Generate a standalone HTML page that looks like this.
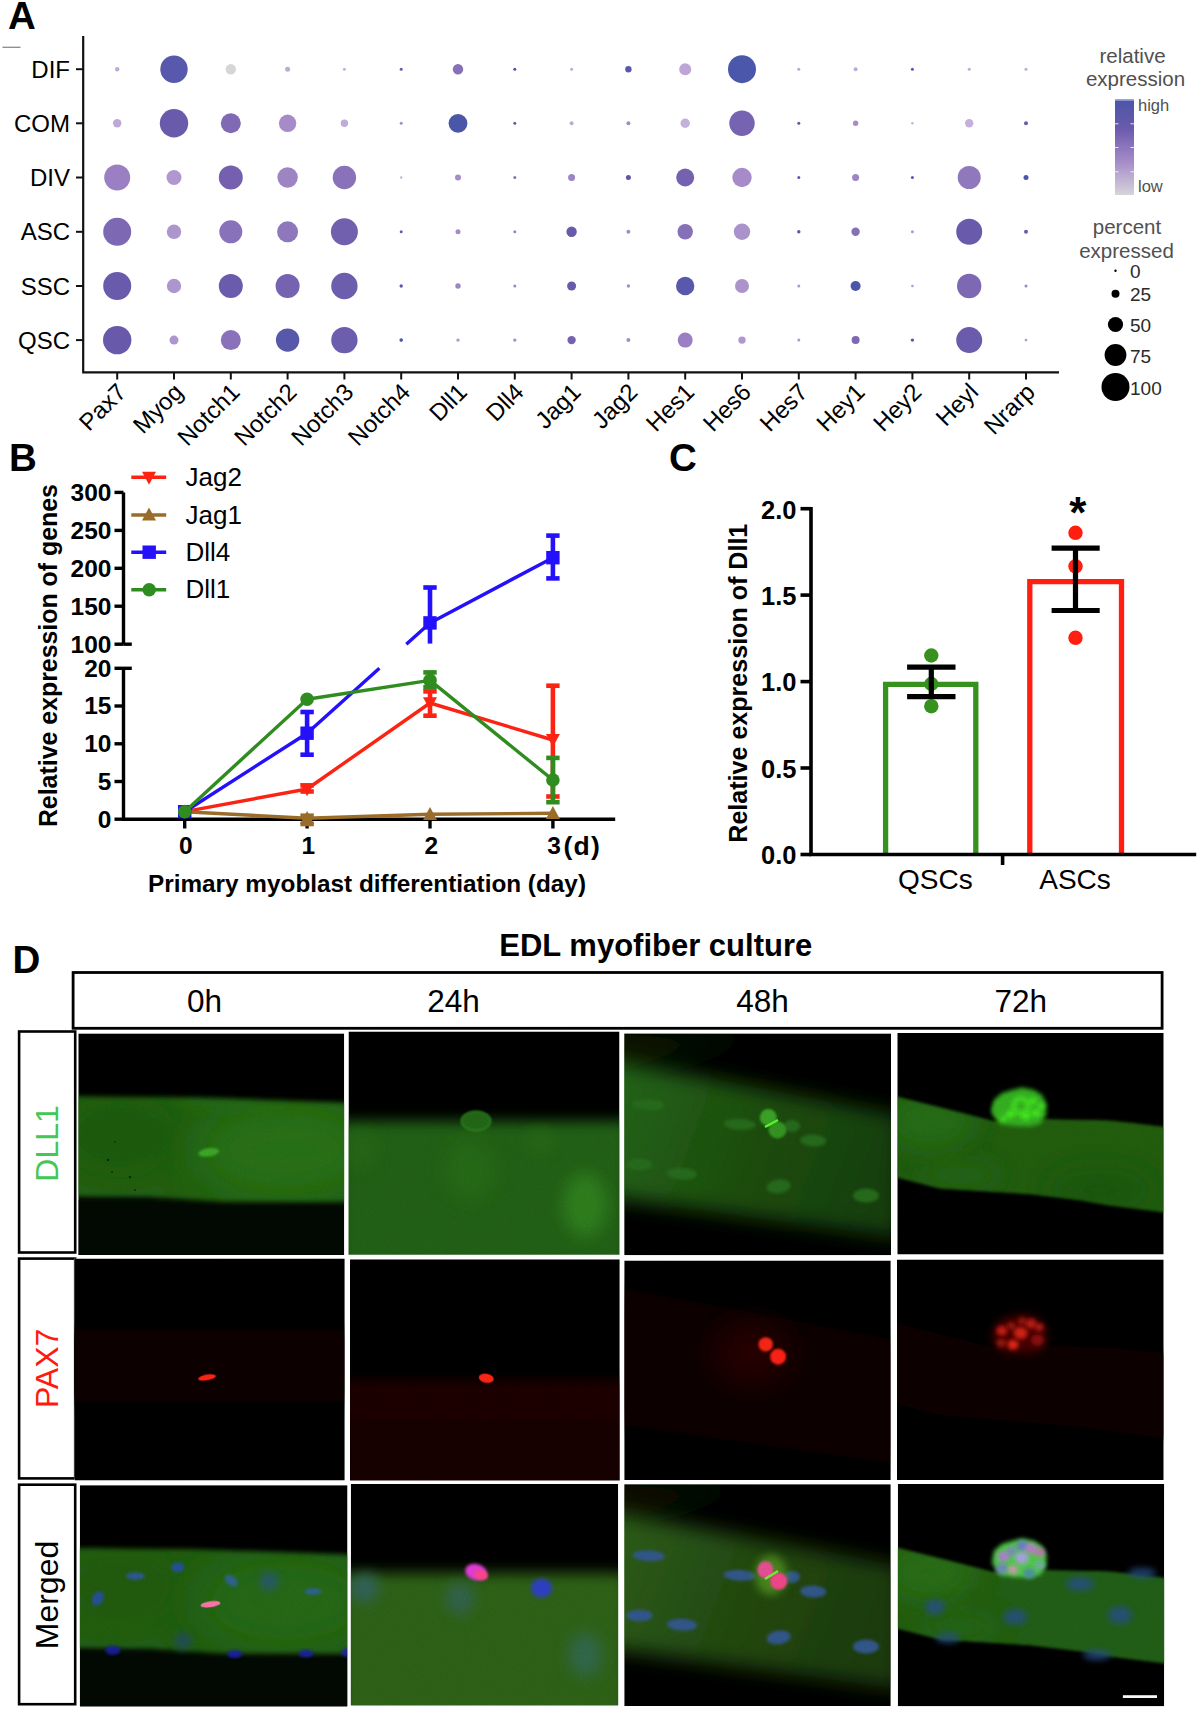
<!DOCTYPE html>
<html><head><meta charset="utf-8"><style>
html,body{margin:0;padding:0;background:#fff;}
svg{display:block;}
text{font-family:"Liberation Sans",sans-serif;}
.lbl{font-size:38.5px;font-weight:bold;}
.ay{font-size:24px;fill:#000;}
.lg{font-size:20.5px;fill:#505050;}
.lg2{font-size:16.5px;fill:#505050;}
.lg3{font-size:19px;fill:#2a2a2a;}
.lg4{font-size:26px;fill:#000;}
.tb{font-size:24.5px;font-weight:bold;}
.tb2{font-size:24.3px;font-weight:bold;}
.tb3{font-size:25px;font-weight:bold;}
.tc{font-size:25.5px;font-weight:bold;}
.tq{font-size:28px;}
.td{font-size:31px;font-weight:bold;}
.th{font-size:31.5px;}
.tr{font-size:32px;}
</style></head>
<body><svg width="1200" height="1710" viewBox="0 0 1200 1710">
<defs><filter id="b0_7" x="-100%" y="-100%" width="300%" height="300%"><feGaussianBlur stdDeviation="0.7"/></filter><filter id="b1" x="-100%" y="-100%" width="300%" height="300%"><feGaussianBlur stdDeviation="1"/></filter><filter id="b1_5" x="-100%" y="-100%" width="300%" height="300%"><feGaussianBlur stdDeviation="1.5"/></filter><filter id="b2" x="-100%" y="-100%" width="300%" height="300%"><feGaussianBlur stdDeviation="2"/></filter><filter id="b2_5" x="-100%" y="-100%" width="300%" height="300%"><feGaussianBlur stdDeviation="2.5"/></filter><filter id="b3" x="-100%" y="-100%" width="300%" height="300%"><feGaussianBlur stdDeviation="3"/></filter><filter id="b4" x="-100%" y="-100%" width="300%" height="300%"><feGaussianBlur stdDeviation="4"/></filter><filter id="b5" x="-100%" y="-100%" width="300%" height="300%"><feGaussianBlur stdDeviation="5"/></filter><filter id="b6" x="-100%" y="-100%" width="300%" height="300%"><feGaussianBlur stdDeviation="6"/></filter><filter id="b7" x="-100%" y="-100%" width="300%" height="300%"><feGaussianBlur stdDeviation="7"/></filter><filter id="b8" x="-100%" y="-100%" width="300%" height="300%"><feGaussianBlur stdDeviation="8"/></filter><filter id="b10" x="-100%" y="-100%" width="300%" height="300%"><feGaussianBlur stdDeviation="10"/></filter><filter id="b12" x="-100%" y="-100%" width="300%" height="300%"><feGaussianBlur stdDeviation="12"/></filter><filter id="b15" x="-100%" y="-100%" width="300%" height="300%"><feGaussianBlur stdDeviation="15"/></filter><filter id="b20" x="-100%" y="-100%" width="300%" height="300%"><feGaussianBlur stdDeviation="20"/></filter><filter id="noise" x="0" y="0" width="100%" height="100%"><feTurbulence type="fractalNoise" baseFrequency="0.7" numOctaves="2" seed="3"/><feColorMatrix type="matrix" values="0.22 0 0 0 0.82  0.22 0 0 0 0.82  0.22 0 0 0 0.82  0 0 0 0 1"/></filter></defs>
<rect width="1200" height="1710" fill="#fff"/>
<text x="8" y="29" class="lbl">A</text>
<line x1="2.5" y1="47.3" x2="20.5" y2="47.3" stroke="#8a8a8a" stroke-width="1.3"/>
<path d="M83.2,36 V372.3 H1059" fill="none" stroke="#111" stroke-width="2.2"/>
<line x1="76" y1="69.2" x2="83" y2="69.2" stroke="#111" stroke-width="2"/>
<text x="70" y="77.8" class="ay" text-anchor="end">DIF</text>
<line x1="76" y1="123.3" x2="83" y2="123.3" stroke="#111" stroke-width="2"/>
<text x="70" y="131.9" class="ay" text-anchor="end">COM</text>
<line x1="76" y1="177.5" x2="83" y2="177.5" stroke="#111" stroke-width="2"/>
<text x="70" y="186.1" class="ay" text-anchor="end">DIV</text>
<line x1="76" y1="231.8" x2="83" y2="231.8" stroke="#111" stroke-width="2"/>
<text x="70" y="240.4" class="ay" text-anchor="end">ASC</text>
<line x1="76" y1="286.0" x2="83" y2="286.0" stroke="#111" stroke-width="2"/>
<text x="70" y="294.6" class="ay" text-anchor="end">SSC</text>
<line x1="76" y1="340.1" x2="83" y2="340.1" stroke="#111" stroke-width="2"/>
<text x="70" y="348.7" class="ay" text-anchor="end">QSC</text>
<line x1="117.2" y1="372" x2="117.2" y2="379.5" stroke="#111" stroke-width="2"/>
<text transform="translate(127.7,393.5) rotate(-45)" class="ay" text-anchor="end">Pax7</text>
<line x1="174.0" y1="372" x2="174.0" y2="379.5" stroke="#111" stroke-width="2"/>
<text transform="translate(184.5,393.5) rotate(-45)" class="ay" text-anchor="end">Myog</text>
<line x1="230.8" y1="372" x2="230.8" y2="379.5" stroke="#111" stroke-width="2"/>
<text transform="translate(241.3,393.5) rotate(-45)" class="ay" text-anchor="end">Notch1</text>
<line x1="287.6" y1="372" x2="287.6" y2="379.5" stroke="#111" stroke-width="2"/>
<text transform="translate(298.1,393.5) rotate(-45)" class="ay" text-anchor="end">Notch2</text>
<line x1="344.4" y1="372" x2="344.4" y2="379.5" stroke="#111" stroke-width="2"/>
<text transform="translate(354.9,393.5) rotate(-45)" class="ay" text-anchor="end">Notch3</text>
<line x1="401.2" y1="372" x2="401.2" y2="379.5" stroke="#111" stroke-width="2"/>
<text transform="translate(411.7,393.5) rotate(-45)" class="ay" text-anchor="end">Notch4</text>
<line x1="458.0" y1="372" x2="458.0" y2="379.5" stroke="#111" stroke-width="2"/>
<text transform="translate(468.5,393.5) rotate(-45)" class="ay" text-anchor="end">Dll1</text>
<line x1="514.8" y1="372" x2="514.8" y2="379.5" stroke="#111" stroke-width="2"/>
<text transform="translate(525.3,393.5) rotate(-45)" class="ay" text-anchor="end">Dll4</text>
<line x1="571.6" y1="372" x2="571.6" y2="379.5" stroke="#111" stroke-width="2"/>
<text transform="translate(582.1,393.5) rotate(-45)" class="ay" text-anchor="end">Jag1</text>
<line x1="628.4" y1="372" x2="628.4" y2="379.5" stroke="#111" stroke-width="2"/>
<text transform="translate(638.9,393.5) rotate(-45)" class="ay" text-anchor="end">Jag2</text>
<line x1="685.2" y1="372" x2="685.2" y2="379.5" stroke="#111" stroke-width="2"/>
<text transform="translate(695.7,393.5) rotate(-45)" class="ay" text-anchor="end">Hes1</text>
<line x1="742.0" y1="372" x2="742.0" y2="379.5" stroke="#111" stroke-width="2"/>
<text transform="translate(752.5,393.5) rotate(-45)" class="ay" text-anchor="end">Hes6</text>
<line x1="798.8" y1="372" x2="798.8" y2="379.5" stroke="#111" stroke-width="2"/>
<text transform="translate(809.3,393.5) rotate(-45)" class="ay" text-anchor="end">Hes7</text>
<line x1="855.6" y1="372" x2="855.6" y2="379.5" stroke="#111" stroke-width="2"/>
<text transform="translate(866.1,393.5) rotate(-45)" class="ay" text-anchor="end">Hey1</text>
<line x1="912.4" y1="372" x2="912.4" y2="379.5" stroke="#111" stroke-width="2"/>
<text transform="translate(922.9,393.5) rotate(-45)" class="ay" text-anchor="end">Hey2</text>
<line x1="969.2" y1="372" x2="969.2" y2="379.5" stroke="#111" stroke-width="2"/>
<text transform="translate(979.7,393.5) rotate(-45)" class="ay" text-anchor="end">Heyl</text>
<line x1="1026.0" y1="372" x2="1026.0" y2="379.5" stroke="#111" stroke-width="2"/>
<text transform="translate(1036.5,393.5) rotate(-45)" class="ay" text-anchor="end">Nrarp</text>
<circle cx="117.2" cy="69.2" r="2.2" fill="#bfa9d8"/>
<circle cx="174.0" cy="69.2" r="13.7" fill="#5858ac"/>
<circle cx="230.8" cy="69.2" r="5.2" fill="#d6d6d6"/>
<circle cx="287.6" cy="69.2" r="2.5" fill="#bfa9d8"/>
<circle cx="344.4" cy="69.2" r="1.5" fill="#c3b0db"/>
<circle cx="401.2" cy="69.2" r="1.5" fill="#6a5aac"/>
<circle cx="458.0" cy="69.2" r="5.2" fill="#8670b8"/>
<circle cx="514.8" cy="69.2" r="1.5" fill="#4a56a8"/>
<circle cx="571.6" cy="69.2" r="1.5" fill="#bfa9d8"/>
<circle cx="628.4" cy="69.2" r="3.2" fill="#5858ac"/>
<circle cx="685.2" cy="69.2" r="6" fill="#bda6d6"/>
<circle cx="742.0" cy="69.2" r="14" fill="#4b57aa"/>
<circle cx="798.8" cy="69.2" r="1.5" fill="#bda6d6"/>
<circle cx="855.6" cy="69.2" r="2" fill="#bfa9d8"/>
<circle cx="912.4" cy="69.2" r="1.5" fill="#5858ac"/>
<circle cx="969.2" cy="69.2" r="1.5" fill="#bfa9d8"/>
<circle cx="1026.0" cy="69.2" r="1.5" fill="#bfa9d8"/>
<circle cx="117.2" cy="123.3" r="4.2" fill="#bda9d8"/>
<circle cx="174.0" cy="123.3" r="14.2" fill="#6a5aab"/>
<circle cx="230.8" cy="123.3" r="10" fill="#7f6ab3"/>
<circle cx="287.6" cy="123.3" r="8.7" fill="#a68bc8"/>
<circle cx="344.4" cy="123.3" r="3.7" fill="#c0abd9"/>
<circle cx="401.2" cy="123.3" r="1.5" fill="#a68bc8"/>
<circle cx="458.0" cy="123.3" r="9.4" fill="#4a56a8"/>
<circle cx="514.8" cy="123.3" r="1.5" fill="#6a5aac"/>
<circle cx="571.6" cy="123.3" r="2" fill="#bfa9d8"/>
<circle cx="628.4" cy="123.3" r="2" fill="#a68bc8"/>
<circle cx="685.2" cy="123.3" r="4.7" fill="#c3b0db"/>
<circle cx="742.0" cy="123.3" r="12.7" fill="#7663b1"/>
<circle cx="798.8" cy="123.3" r="1.5" fill="#5d58a9"/>
<circle cx="855.6" cy="123.3" r="2.7" fill="#a68bc8"/>
<circle cx="912.4" cy="123.3" r="1.2" fill="#c3b0db"/>
<circle cx="969.2" cy="123.3" r="4.2" fill="#c3b0db"/>
<circle cx="1026.0" cy="123.3" r="2" fill="#6a5aac"/>
<circle cx="117.2" cy="177.5" r="13" fill="#9a80c2"/>
<circle cx="174.0" cy="177.5" r="7.5" fill="#b197cf"/>
<circle cx="230.8" cy="177.5" r="12" fill="#7560b0"/>
<circle cx="287.6" cy="177.5" r="10.2" fill="#9d84c3"/>
<circle cx="344.4" cy="177.5" r="11.7" fill="#8a72ba"/>
<circle cx="401.2" cy="177.5" r="1.2" fill="#c3b0db"/>
<circle cx="458.0" cy="177.5" r="3" fill="#a68bc8"/>
<circle cx="514.8" cy="177.5" r="1.5" fill="#8670b8"/>
<circle cx="571.6" cy="177.5" r="3.5" fill="#9d84c3"/>
<circle cx="628.4" cy="177.5" r="2.5" fill="#5d58a9"/>
<circle cx="685.2" cy="177.5" r="9" fill="#7462b0"/>
<circle cx="742.0" cy="177.5" r="9.7" fill="#a68bc8"/>
<circle cx="798.8" cy="177.5" r="1.5" fill="#5858ac"/>
<circle cx="855.6" cy="177.5" r="3.5" fill="#9d84c3"/>
<circle cx="912.4" cy="177.5" r="1.5" fill="#5858ac"/>
<circle cx="969.2" cy="177.5" r="11.5" fill="#9078bd"/>
<circle cx="1026.0" cy="177.5" r="2.5" fill="#4a56a8"/>
<circle cx="117.2" cy="231.8" r="14" fill="#7c68b3"/>
<circle cx="174.0" cy="231.8" r="7.2" fill="#ad95cd"/>
<circle cx="230.8" cy="231.8" r="11.5" fill="#8872b9"/>
<circle cx="287.6" cy="231.8" r="10.5" fill="#8e78bb"/>
<circle cx="344.4" cy="231.8" r="13.5" fill="#7060ad"/>
<circle cx="401.2" cy="231.8" r="1.5" fill="#6a5aac"/>
<circle cx="458.0" cy="231.8" r="2.5" fill="#a68bc8"/>
<circle cx="514.8" cy="231.8" r="1.5" fill="#9d84c3"/>
<circle cx="571.6" cy="231.8" r="5.2" fill="#6a5aac"/>
<circle cx="628.4" cy="231.8" r="2" fill="#a68bc8"/>
<circle cx="685.2" cy="231.8" r="7.7" fill="#8670b8"/>
<circle cx="742.0" cy="231.8" r="8.2" fill="#a993ca"/>
<circle cx="798.8" cy="231.8" r="1.7" fill="#5858ac"/>
<circle cx="855.6" cy="231.8" r="4.2" fill="#8670b8"/>
<circle cx="912.4" cy="231.8" r="1.5" fill="#b197cf"/>
<circle cx="969.2" cy="231.8" r="13" fill="#6a5aac"/>
<circle cx="1026.0" cy="231.8" r="2" fill="#6a5aac"/>
<circle cx="117.2" cy="286.0" r="14" fill="#6a5aac"/>
<circle cx="174.0" cy="286.0" r="7.2" fill="#ad95cd"/>
<circle cx="230.8" cy="286.0" r="12" fill="#6b5bac"/>
<circle cx="287.6" cy="286.0" r="12" fill="#7562b0"/>
<circle cx="344.4" cy="286.0" r="13.2" fill="#6d5dad"/>
<circle cx="401.2" cy="286.0" r="1.7" fill="#5d58a9"/>
<circle cx="458.0" cy="286.0" r="2.7" fill="#9d84c3"/>
<circle cx="514.8" cy="286.0" r="1.5" fill="#9d84c3"/>
<circle cx="571.6" cy="286.0" r="4.5" fill="#6a5aac"/>
<circle cx="628.4" cy="286.0" r="1.7" fill="#a68bc8"/>
<circle cx="685.2" cy="286.0" r="9.2" fill="#5858ac"/>
<circle cx="742.0" cy="286.0" r="7" fill="#ab93cc"/>
<circle cx="798.8" cy="286.0" r="1.5" fill="#b197cf"/>
<circle cx="855.6" cy="286.0" r="5" fill="#4a56a8"/>
<circle cx="912.4" cy="286.0" r="1.3" fill="#b197cf"/>
<circle cx="969.2" cy="286.0" r="12.2" fill="#7c68b3"/>
<circle cx="1026.0" cy="286.0" r="1.5" fill="#9d84c3"/>
<circle cx="117.2" cy="340.1" r="14.2" fill="#6859ab"/>
<circle cx="174.0" cy="340.1" r="4.5" fill="#ad95cd"/>
<circle cx="230.8" cy="340.1" r="10" fill="#8a72ba"/>
<circle cx="287.6" cy="340.1" r="11.7" fill="#5858ab"/>
<circle cx="344.4" cy="340.1" r="13.2" fill="#6d5dad"/>
<circle cx="401.2" cy="340.1" r="1.8" fill="#4a56a8"/>
<circle cx="458.0" cy="340.1" r="1.7" fill="#b197cf"/>
<circle cx="514.8" cy="340.1" r="1.7" fill="#a68bc8"/>
<circle cx="571.6" cy="340.1" r="4.2" fill="#7462b0"/>
<circle cx="628.4" cy="340.1" r="2" fill="#a68bc8"/>
<circle cx="685.2" cy="340.1" r="7.5" fill="#9a80c2"/>
<circle cx="742.0" cy="340.1" r="3.7" fill="#b197cf"/>
<circle cx="798.8" cy="340.1" r="1.5" fill="#b197cf"/>
<circle cx="855.6" cy="340.1" r="4" fill="#7c68b3"/>
<circle cx="912.4" cy="340.1" r="1.7" fill="#5858ac"/>
<circle cx="969.2" cy="340.1" r="13" fill="#6b5bac"/>
<circle cx="1026.0" cy="340.1" r="1.3" fill="#b197cf"/>
<text x="1132.5" y="62.5" class="lg" text-anchor="middle">relative</text>
<text x="1135.5" y="86" class="lg" text-anchor="middle">expression</text>
<defs><linearGradient id="cb" x1="0" y1="0" x2="0" y2="1"><stop offset="0" stop-color="#4a56a8"/><stop offset="0.3" stop-color="#6a5aac"/><stop offset="0.65" stop-color="#a68bc8"/><stop offset="1" stop-color="#d6d4dc"/></linearGradient></defs>
<rect x="1115" y="99.5" width="19" height="95.5" fill="url(#cb)"/>
<line x1="1115" y1="100.3" x2="1134" y2="100.3" stroke="#8c9ad0" stroke-width="1.2"/>
<line x1="1115" y1="123.8" x2="1118.5" y2="123.8" stroke="#fff" stroke-width="1" opacity="0.8"/>
<line x1="1130.5" y1="123.8" x2="1134" y2="123.8" stroke="#fff" stroke-width="1" opacity="0.8"/>
<line x1="1115" y1="147.5" x2="1118.5" y2="147.5" stroke="#fff" stroke-width="1" opacity="0.8"/>
<line x1="1130.5" y1="147.5" x2="1134" y2="147.5" stroke="#fff" stroke-width="1" opacity="0.8"/>
<line x1="1115" y1="171.8" x2="1118.5" y2="171.8" stroke="#fff" stroke-width="1" opacity="0.8"/>
<line x1="1130.5" y1="171.8" x2="1134" y2="171.8" stroke="#fff" stroke-width="1" opacity="0.8"/>
<text x="1138" y="110.5" class="lg2">high</text>
<text x="1138" y="192" class="lg2">low</text>
<text x="1127" y="233.8" class="lg" text-anchor="middle">percent</text>
<text x="1126.5" y="257.5" class="lg" text-anchor="middle">expressed</text>
<circle cx="1115.5" cy="270.8" r="1.2" fill="#000"/>
<text x="1130" y="278" class="lg3">0</text>
<circle cx="1115.5" cy="293.8" r="4" fill="#000"/>
<text x="1130" y="301.3" class="lg3">25</text>
<circle cx="1115.5" cy="324.5" r="7.6" fill="#000"/>
<text x="1130" y="332" class="lg3">50</text>
<circle cx="1115.5" cy="355" r="10.9" fill="#000"/>
<text x="1130" y="362.5" class="lg3">75</text>
<circle cx="1115.5" cy="387" r="14" fill="#000"/>
<text x="1130" y="394.5" class="lg3">100</text>
<text x="9" y="470.5" class="lbl">B</text>
<g stroke="#000" stroke-width="3.4" fill="none">
<path d="M123.5,492.4 V644.2"/><path d="M123.5,668.3 V819.2 H615.2"/>
<path d="M114.5,492.4 H123.5"/>
<path d="M114.5,530.4 H123.5"/>
<path d="M114.5,568.3 H123.5"/>
<path d="M114.5,606.2 H123.5"/>
<path d="M114.5,644.2 H123.5"/>
<path d="M123.5,644.2 H131.8"/><path d="M114.5,668.3 H131.8"/>
<path d="M114.5,706.0 H123.5"/>
<path d="M114.5,743.8 H123.5"/>
<path d="M114.5,781.5 H123.5"/>
<path d="M114.5,819.2 H123.5"/>
<path d="M184.7,819.2 V828.5"/>
<path d="M307.1,819.2 V828.5"/>
<path d="M430.0,819.2 V828.5"/>
<path d="M552.9,819.2 V828.5"/>
</g>
<text x="111.5" y="500.8" class="tb" text-anchor="end">300</text>
<text x="111.5" y="538.8" class="tb" text-anchor="end">250</text>
<text x="111.5" y="576.7" class="tb" text-anchor="end">200</text>
<text x="111.5" y="614.6" class="tb" text-anchor="end">150</text>
<text x="111.5" y="652.6" class="tb" text-anchor="end">100</text>
<text x="111.5" y="676.7" class="tb" text-anchor="end">20</text>
<text x="111.5" y="714.4" class="tb" text-anchor="end">15</text>
<text x="111.5" y="752.1" class="tb" text-anchor="end">10</text>
<text x="111.5" y="789.9" class="tb" text-anchor="end">5</text>
<text x="111.5" y="827.6" class="tb" text-anchor="end">0</text>
<text x="185.9" y="854.3" class="tb" text-anchor="middle">0</text>
<text x="308.3" y="854.3" class="tb" text-anchor="middle">1</text>
<text x="431.2" y="854.3" class="tb" text-anchor="middle">2</text>
<text x="554.1" y="854.3" class="tb" text-anchor="middle">3</text>
<text x="563.5" y="855" class="tb" style="font-size:26.5px;letter-spacing:1.3px">(d)</text>
<text x="367" y="892" class="tb2" text-anchor="middle" textLength="438" lengthAdjust="spacingAndGlyphs">Primary myoblast differentiation (day)</text>
<text transform="translate(56.8,655.6) rotate(-90)" class="tb3" text-anchor="middle" textLength="343" lengthAdjust="spacingAndGlyphs">Relative expression of genes</text>
<line x1="131.3" y1="477.2" x2="166.2" y2="477.2" stroke="#fb2414" stroke-width="3.4"/>
<path d="M142.0,471.8 L156.0,471.8 L149.0,484.8 Z" fill="#fb2414"/>
<text x="185.5" y="486.2" class="lg4">Jag2</text>
<line x1="131.3" y1="515" x2="166.2" y2="515" stroke="#9a6c2a" stroke-width="3.4"/>
<path d="M142.0,520.4 L156.0,520.4 L149.0,507.4 Z" fill="#9a6c2a"/>
<text x="185.5" y="523.5" class="lg4">Jag1</text>
<line x1="131.3" y1="552.2" x2="166.2" y2="552.2" stroke="#2410fb" stroke-width="3.4"/>
<rect x="142.5" y="545.5" width="13.4" height="13.4" fill="#2410fb"/>
<text x="185.5" y="561.3" class="lg4">Dll4</text>
<line x1="131.3" y1="589.7" x2="166.2" y2="589.7" stroke="#2f8c1f" stroke-width="3.4"/>
<circle cx="149.2" cy="589.7" r="6.8" fill="#2f8c1f"/>
<text x="185.5" y="598.4" class="lg4">Dll1</text>
<polyline points="184.7,811.7 307.1,789.0 430.0,703.0 552.9,740.0" fill="none" stroke="#fb2414" stroke-width="3.4" stroke-linejoin="round"/>
<line x1="307.1" y1="785.5" x2="307.1" y2="791.5" stroke="#fb2414" stroke-width="4.6"/><line x1="300.4" y1="785.5" x2="313.8" y2="785.5" stroke="#fb2414" stroke-width="4.6"/><line x1="300.4" y1="791.5" x2="313.8" y2="791.5" stroke="#fb2414" stroke-width="4.6"/>
<line x1="430.0" y1="691.4" x2="430.0" y2="715.7" stroke="#fb2414" stroke-width="4.6"/><line x1="423.3" y1="691.4" x2="436.7" y2="691.4" stroke="#fb2414" stroke-width="4.6"/><line x1="423.3" y1="715.7" x2="436.7" y2="715.7" stroke="#fb2414" stroke-width="4.6"/>
<line x1="552.9" y1="685.7" x2="552.9" y2="796.5" stroke="#fb2414" stroke-width="4.6"/><line x1="546.2" y1="685.7" x2="559.6" y2="685.7" stroke="#fb2414" stroke-width="4.6"/><line x1="546.2" y1="796.5" x2="559.6" y2="796.5" stroke="#fb2414" stroke-width="4.6"/>
<path d="M177.7,805.8 L191.7,805.8 L184.7,818.8 Z" fill="#fb2414"/>
<path d="M300.1,783.2 L314.1,783.2 L307.1,796.2 Z" fill="#fb2414"/>
<path d="M423.0,697.2 L437.0,697.2 L430.0,710.2 Z" fill="#fb2414"/>
<path d="M545.9,734.1 L559.9,734.1 L552.9,747.1 Z" fill="#fb2414"/>
<polyline points="184.7,811.7 307.1,818.3 430.0,814.3 552.9,813.2" fill="none" stroke="#9a6c2a" stroke-width="3.4" stroke-linejoin="round"/>
<line x1="307.1" y1="815.7" x2="307.1" y2="824.0" stroke="#9a6c2a" stroke-width="4.6"/><line x1="300.4" y1="815.7" x2="313.8" y2="815.7" stroke="#9a6c2a" stroke-width="4.6"/><line x1="300.4" y1="824.0" x2="313.8" y2="824.0" stroke="#9a6c2a" stroke-width="4.6"/>
<path d="M177.7,817.5 L191.7,817.5 L184.7,804.5 Z" fill="#9a6c2a"/>
<path d="M300.1,824.1 L314.1,824.1 L307.1,811.1 Z" fill="#9a6c2a"/>
<path d="M423.0,820.1 L437.0,820.1 L430.0,807.1 Z" fill="#9a6c2a"/>
<path d="M545.9,819.0 L559.9,819.0 L552.9,806.0 Z" fill="#9a6c2a"/>
<polyline points="184.7,811.7 307.1,733.2 379.4,668.3" fill="none" stroke="#2410fb" stroke-width="3.4" stroke-linejoin="round"/>
<polyline points="406.3,644.2 430.0,622.9 552.9,557.7" fill="none" stroke="#2410fb" stroke-width="3.4" stroke-linejoin="round"/>
<line x1="307.1" y1="712.0" x2="307.1" y2="754.7" stroke="#2410fb" stroke-width="4.6"/><line x1="300.4" y1="712.0" x2="313.8" y2="712.0" stroke="#2410fb" stroke-width="4.6"/><line x1="300.4" y1="754.7" x2="313.8" y2="754.7" stroke="#2410fb" stroke-width="4.6"/>
<line x1="430.0" y1="587.5" x2="430.0" y2="643.6" stroke="#2410fb" stroke-width="4.6"/><line x1="423.3" y1="587.5" x2="436.7" y2="587.5" stroke="#2410fb" stroke-width="4.6"/>
<line x1="552.9" y1="535.6" x2="552.9" y2="578.4" stroke="#2410fb" stroke-width="4.6"/><line x1="546.2" y1="535.6" x2="559.6" y2="535.6" stroke="#2410fb" stroke-width="4.6"/><line x1="546.2" y1="578.4" x2="559.6" y2="578.4" stroke="#2410fb" stroke-width="4.6"/>
<rect x="178.0" y="805.0" width="13.4" height="13.4" fill="#2410fb"/>
<rect x="300.4" y="726.5" width="13.4" height="13.4" fill="#2410fb"/>
<rect x="423.3" y="616.2" width="13.4" height="13.4" fill="#2410fb"/>
<rect x="546.2" y="551.0" width="13.4" height="13.4" fill="#2410fb"/>
<polyline points="184.7,811.7 307.1,699.2 430.0,680.4 552.9,780.0" fill="none" stroke="#2f8c1f" stroke-width="3.4" stroke-linejoin="round"/>
<line x1="430.0" y1="672.4" x2="430.0" y2="687.2" stroke="#2f8c1f" stroke-width="4.6"/><line x1="423.3" y1="672.4" x2="436.7" y2="672.4" stroke="#2f8c1f" stroke-width="4.6"/><line x1="423.3" y1="687.2" x2="436.7" y2="687.2" stroke="#2f8c1f" stroke-width="4.6"/>
<line x1="552.9" y1="757.9" x2="552.9" y2="802.2" stroke="#2f8c1f" stroke-width="4.6"/><line x1="546.2" y1="757.9" x2="559.6" y2="757.9" stroke="#2f8c1f" stroke-width="4.6"/><line x1="546.2" y1="802.2" x2="559.6" y2="802.2" stroke="#2f8c1f" stroke-width="4.6"/>
<circle cx="184.7" cy="811.7" r="6.8" fill="#2f8c1f"/>
<circle cx="307.1" cy="699.2" r="6.8" fill="#2f8c1f"/>
<circle cx="430.0" cy="680.4" r="6.8" fill="#2f8c1f"/>
<circle cx="552.9" cy="780.0" r="6.8" fill="#2f8c1f"/>
<text x="669" y="471" class="lbl">C</text>
<text x="796.5" y="518.5" class="tc" text-anchor="end">2.0</text>
<text x="796.5" y="604.9" class="tc" text-anchor="end">1.5</text>
<text x="796.5" y="691.4" class="tc" text-anchor="end">1.0</text>
<text x="796.5" y="777.8" class="tc" text-anchor="end">0.5</text>
<text x="796.5" y="864.3" class="tc" text-anchor="end">0.0</text>
<path d="M885.6,855 V684.4 H975.8 V855" fill="none" stroke="#37911e" stroke-width="5.3"/>
<path d="M1029.8,855 V581.6 H1121.5 V855" fill="none" stroke="#ff1e10" stroke-width="5.3"/>
<g stroke="#000" stroke-width="3.6" fill="none">
<path d="M811,507 V854.5 H1196.2"/>
<path d="M800.5,508.7 H811"/>
<path d="M800.5,595.1 H811"/>
<path d="M800.5,681.6 H811"/>
<path d="M800.5,768.0 H811"/>
<path d="M800.5,854.5 H811"/>
<path d="M1002.6,854.5 V865"/>
</g>
<circle cx="931.3" cy="655.5" r="7.2" fill="#37911e"/>
<circle cx="931.3" cy="684.0" r="7.2" fill="#37911e"/>
<circle cx="931.3" cy="706.2" r="7.2" fill="#37911e"/>
<circle cx="1075.5" cy="532.8" r="7.2" fill="#ff1e10"/>
<circle cx="1075.5" cy="566.3" r="7.2" fill="#ff1e10"/>
<circle cx="1075.5" cy="637.8" r="7.2" fill="#ff1e10"/>
<g stroke="#000" stroke-width="5.2" fill="none">
<path d="M931.3,667.1 V696.6 M907.1,667.1 H955.5 M907.1,696.6 H955.5"/>
<path d="M1075.5,548.2 V610.5 M1051.6,548.2 H1099.7 M1051.6,610.5 H1099.7"/>
</g>
<text x="1077.7" y="527.5" class="tc" text-anchor="middle" style="font-size:44px">*</text>
<text x="935.3" y="889.4" class="tq" text-anchor="middle">QSCs</text>
<text x="1075" y="889.4" class="tq" text-anchor="middle">ASCs</text>
<text transform="translate(746.6,683.2) rotate(-90)" class="tb3" text-anchor="middle" textLength="319" lengthAdjust="spacingAndGlyphs">Relative expression of Dll1</text>
<text x="12.5" y="973" class="lbl">D</text>
<text x="655.75" y="955.6" class="td" text-anchor="middle">EDL myofiber culture</text>
<rect x="73.1" y="972.5" width="1089" height="55.8" fill="#fff" stroke="#000" stroke-width="2.8"/>
<text x="204.5" y="1011.8" class="th" text-anchor="middle">0h</text>
<text x="453.5" y="1011.8" class="th" text-anchor="middle">24h</text>
<text x="762.5" y="1011.8" class="th" text-anchor="middle">48h</text>
<text x="1020.75" y="1011.8" class="th" text-anchor="middle">72h</text>
<rect x="19.1" y="1031.5" width="56.1" height="220.99999999999991" fill="#fff" stroke="#000" stroke-width="2.6"/>
<text transform="translate(58.3,1143.4) rotate(-90)" class="tr" text-anchor="middle" fill="#43c756">DLL1</text>
<rect x="19.1" y="1258.6" width="56.1" height="219.8000000000001" fill="#fff" stroke="#000" stroke-width="2.6"/>
<text transform="translate(58.3,1368.4) rotate(-90)" class="tr" text-anchor="middle" fill="#ff1a10">PAX7</text>
<rect x="19.1" y="1484.7" width="56.1" height="219.49999999999991" fill="#fff" stroke="#000" stroke-width="2.6"/>
<text transform="translate(58.3,1595) rotate(-90)" class="tr" text-anchor="middle" fill="#000">Merged</text>
<clipPath id="clip11"><rect x="78.3" y="1033.4" width="265.90" height="221.60"/></clipPath>
<g clip-path="url(#clip11)"><rect x="78.3" y="1033.4" width="265.90" height="221.60" fill="#000"/>
<rect x="78.3" y="1200" width="265.9" height="60" fill="rgb(2,9,2)"/>
<clipPath id="fc1"><polygon points="70.0,1096.0 200.0,1097.5 344.0,1102.6 352.0,1103.0 352.0,1203.0 344.0,1202.3 223.0,1202.0 150.0,1197.5 70.0,1196.7"/></clipPath><g filter="url(#b2_5)"><g clip-path="url(#fc1)"><polygon points="70.0,1096.0 200.0,1097.5 344.0,1102.6 352.0,1103.0 352.0,1203.0 344.0,1202.3 223.0,1202.0 150.0,1197.5 70.0,1196.7" fill="rgb(34,98,18)"/><ellipse cx="285.0" cy="1150.0" rx="90" ry="50" fill="rgb(42,116,24)" filter="url(#b20)" opacity="0.9"/><ellipse cx="120.0" cy="1135.0" rx="50" ry="30" fill="rgb(30,88,16)" filter="url(#b12)" opacity="0.7"/><ellipse cx="230.0" cy="1100.0" rx="60" ry="10" fill="rgb(40,110,22)" filter="url(#b6)" opacity="0.6"/></g></g>
<ellipse cx="208.7" cy="1152.4" rx="10.5" ry="4.2" fill="rgb(62,170,40)" filter="url(#b1)" transform="rotate(-8 208.7 1152.4)"/>
<ellipse cx="108.0" cy="1160.0" rx="1.2" ry="1.2" fill="rgb(14,40,10)" filter="url(#b0_7)"/>
<ellipse cx="112.0" cy="1172.0" rx="1" ry="1" fill="rgb(14,40,10)" filter="url(#b0_7)"/>
<ellipse cx="130.0" cy="1177.0" rx="1.2" ry="1.2" fill="rgb(14,40,10)" filter="url(#b0_7)"/>
<ellipse cx="135.0" cy="1190.0" rx="1" ry="1" fill="rgb(14,40,10)" filter="url(#b0_7)"/>
<ellipse cx="115.0" cy="1142.0" rx="0.8" ry="0.8" fill="rgb(14,40,10)" filter="url(#b0_7)"/>
<rect x="78.3" y="1033.4" width="265.90" height="221.60" fill="#fff" filter="url(#noise)" style="mix-blend-mode:multiply"/>
</g>
<clipPath id="clip12"><rect x="348.5" y="1031.5" width="271.00" height="223.30"/></clipPath>
<g clip-path="url(#clip12)"><rect x="348.5" y="1031.5" width="271.00" height="223.30" fill="#000"/>
<rect x="338.5" y="1121" width="291.0" height="150" fill="rgb(34,98,19)" filter="url(#b7)"/>
<ellipse cx="585.0" cy="1205.0" rx="22" ry="32" fill="rgb(46,128,28)" filter="url(#b8)"/>
<ellipse cx="470.0" cy="1170.0" rx="25" ry="30" fill="rgb(40,112,24)" filter="url(#b10)" opacity="0.7"/>
<ellipse cx="360.0" cy="1150.0" rx="16" ry="18" fill="rgb(38,108,22)" filter="url(#b8)" opacity="0.7"/>
<ellipse cx="540.0" cy="1142.0" rx="15" ry="14" fill="rgb(38,106,22)" filter="url(#b6)" opacity="0.7"/>
<ellipse cx="476.0" cy="1121.0" rx="14.5" ry="9.5" fill="rgb(36,104,22)" filter="url(#b1)"/>
<ellipse cx="476.0" cy="1121.0" rx="14.5" ry="9.5" fill="none" stroke="rgb(50,140,32)" stroke-width="1.5" filter="url(#b1)"/>
<rect x="348.5" y="1031.5" width="271.00" height="223.30" fill="#fff" filter="url(#noise)" style="mix-blend-mode:multiply"/>
</g>
<clipPath id="clip13"><rect x="624.2" y="1033.4" width="266.80" height="221.80"/></clipPath>
<g clip-path="url(#clip13)"><rect x="624.2" y="1033.4" width="266.80" height="221.80" fill="#000"/>
<defs><linearGradient id="g13" gradientUnits="userSpaceOnUse" x1="624" y1="1090" x2="891" y2="1190"><stop offset="0" stop-color="rgb(36,100,22)"/><stop offset="0.5" stop-color="rgb(28,78,14)"/><stop offset="1" stop-color="rgb(22,64,12)"/></linearGradient></defs>
<polygon points="600.0,1035.0 760.0,1035.0 600.0,1075.0" fill="rgb(8,26,5)" filter="url(#b15)"/>
<polygon points="600.0,1058.0 900.0,1115.0 900.0,1238.0 600.0,1196.0" fill="url(#g13)" filter="url(#b10)"/>
<ellipse cx="648.7" cy="1104.7" rx="16" ry="5.5" fill="rgb(40,108,26)" filter="url(#b1_5)" transform="rotate(3 648.7 1104.7)"/>
<ellipse cx="739.6" cy="1124.3" rx="16" ry="5.5" fill="rgb(40,108,26)" filter="url(#b1_5)" transform="rotate(3 739.6 1124.3)"/>
<ellipse cx="813.2" cy="1140.4" rx="13" ry="6" fill="rgb(40,108,26)" filter="url(#b1_5)" transform="rotate(3 813.2 1140.4)"/>
<ellipse cx="639.5" cy="1164.5" rx="13" ry="6" fill="rgb(40,108,26)" filter="url(#b1_5)"/>
<ellipse cx="682.0" cy="1173.7" rx="15" ry="6" fill="rgb(40,108,26)" filter="url(#b1_5)" transform="rotate(3 682.0 1173.7)"/>
<ellipse cx="778.7" cy="1186.4" rx="12" ry="7" fill="rgb(40,108,26)" filter="url(#b1_5)" transform="rotate(-8 778.7 1186.4)"/>
<ellipse cx="866.0" cy="1195.6" rx="13" ry="7" fill="rgb(40,108,26)" filter="url(#b1_5)"/>
<ellipse cx="792.0" cy="1126.0" rx="8" ry="6" fill="rgb(40,108,26)" filter="url(#b1_5)"/>
<ellipse cx="768.3" cy="1117.4" rx="8.5" ry="8.5" fill="rgb(58,165,38)" filter="url(#b1)"/>
<ellipse cx="777.5" cy="1130.0" rx="9" ry="8.5" fill="rgb(52,150,34)" filter="url(#b1)"/>
<line x1="765" y1="1127" x2="778" y2="1120" stroke="rgb(90,250,50)" stroke-width="2.5"/>
<rect x="624.2" y="1033.4" width="266.80" height="221.80" fill="#fff" filter="url(#noise)" style="mix-blend-mode:multiply"/>
</g>
<clipPath id="clip14"><rect x="897.3" y="1033.0" width="266.40" height="221.50"/></clipPath>
<g clip-path="url(#clip14)"><rect x="897.3" y="1033.0" width="266.40" height="221.50" fill="#000"/>
<clipPath id="fc2"><polygon points="890.0,1094.8 992.3,1120.6 1047.0,1119.0 1108.0,1120.2 1130.0,1122.4 1172.0,1127.5 1172.0,1213.5 1108.0,1205.6 1080.0,1200.5 1030.0,1194.4 940.0,1188.7 890.0,1176.0"/></clipPath><g filter="url(#b1_5)"><g clip-path="url(#fc2)"><polygon points="890.0,1094.8 992.3,1120.6 1047.0,1119.0 1108.0,1120.2 1130.0,1122.4 1172.0,1127.5 1172.0,1213.5 1108.0,1205.6 1080.0,1200.5 1030.0,1194.4 940.0,1188.7 890.0,1176.0" fill="rgb(33,94,17)"/><ellipse cx="930.0" cy="1120.0" rx="45" ry="30" fill="rgb(40,112,24)" filter="url(#b12)" opacity="0.9"/><ellipse cx="1100.0" cy="1190.0" rx="50" ry="20" fill="rgb(30,86,15)" filter="url(#b12)" opacity="0.6"/><ellipse cx="960.0" cy="1175.0" rx="40" ry="15" fill="rgb(38,106,22)" filter="url(#b10)" opacity="0.6"/></g></g>
<path d="M992.0,1112.0 L994.0,1100.0 L1002.0,1093.0 L1012.0,1090.0 L1022.0,1087.5 L1034.0,1090.0 L1042.0,1095.0 L1046.5,1104.0 L1046.0,1116.0 L1040.0,1124.0 L1030.0,1126.5 L1015.0,1126.0 L1000.0,1124.0 Z" fill="rgb(54,178,33)" filter="url(#b2)"/>
<circle cx="1021" cy="1106" r="7.5" fill="none" stroke="rgb(70,240,32)" stroke-width="5" filter="url(#b2)" opacity="0.75"/>
<ellipse cx="1010.0" cy="1114.0" rx="5" ry="4.0" fill="rgb(72,245,32)" filter="url(#b2)" opacity="0.85"/>
<ellipse cx="1026.0" cy="1116.0" rx="5" ry="4.0" fill="rgb(72,245,32)" filter="url(#b2)" opacity="0.85"/>
<ellipse cx="1036.0" cy="1113.0" rx="5" ry="4.0" fill="rgb(72,245,32)" filter="url(#b2)" opacity="0.85"/>
<ellipse cx="1033.0" cy="1101.0" rx="4" ry="3.2" fill="rgb(72,245,32)" filter="url(#b2)" opacity="0.85"/>
<ellipse cx="1041.0" cy="1106.0" rx="3.5" ry="2.8000000000000003" fill="rgb(72,245,32)" filter="url(#b2)" opacity="0.85"/>
<ellipse cx="1003.0" cy="1118.0" rx="4" ry="3.2" fill="rgb(72,245,32)" filter="url(#b2)" opacity="0.85"/>
<ellipse cx="999.0" cy="1110.0" rx="7" ry="9" fill="rgb(56,180,34)" filter="url(#b2)" opacity="0.8"/>
<rect x="897.3" y="1033.0" width="266.40" height="221.50" fill="#fff" filter="url(#noise)" style="mix-blend-mode:multiply"/>
</g>
<clipPath id="clip21"><rect x="74.5" y="1258.5" width="270.25" height="222.00"/></clipPath>
<g clip-path="url(#clip21)"><rect x="74.5" y="1258.5" width="270.25" height="222.00" fill="#000"/>
<rect x="64.5" y="1330" width="290.25" height="72" fill="rgb(16,0,0)" filter="url(#b8)"/>
<ellipse cx="207.0" cy="1377.4" rx="9" ry="2.8" fill="rgb(255,40,20)" filter="url(#b0_7)" transform="rotate(-10 207.0 1377.4)"/>
<rect x="74.5" y="1258.5" width="270.25" height="222.00" fill="#fff" filter="url(#noise)" style="mix-blend-mode:multiply"/>
</g>
<clipPath id="clip22"><rect x="350.0" y="1259.3" width="269.75" height="221.20"/></clipPath>
<g clip-path="url(#clip22)"><rect x="350.0" y="1259.3" width="269.75" height="221.20" fill="#000"/>
<defs><linearGradient id="g22" x1="0" y1="0" x2="0" y2="1"><stop offset="0" stop-color="rgb(30,0,3)"/><stop offset="1" stop-color="rgb(18,0,2)"/></linearGradient></defs>
<rect x="340.0" y="1380" width="289.75" height="110" fill="url(#g22)" filter="url(#b6)"/>
<ellipse cx="486.3" cy="1378.3" rx="7.5" ry="4.5" fill="rgb(255,40,20)" filter="url(#b0_7)" transform="rotate(10 486.3 1378.3)"/>
<rect x="350.0" y="1259.3" width="269.75" height="221.20" fill="#fff" filter="url(#noise)" style="mix-blend-mode:multiply"/>
</g>
<clipPath id="clip23"><rect x="624.25" y="1260.5" width="266.50" height="219.50"/></clipPath>
<g clip-path="url(#clip23)"><rect x="624.25" y="1260.5" width="266.50" height="219.50" fill="#000"/>
<polygon points="600.0,1284.0 900.0,1341.0 900.0,1464.0 600.0,1422.0" fill="rgb(14,0,0)" filter="url(#b12)"/>
<ellipse cx="752.0" cy="1353.0" rx="38" ry="30" fill="rgb(40,1,1)" filter="url(#b15)"/>
<ellipse cx="765.7" cy="1344.4" rx="7.2" ry="7.2" fill="rgb(250,40,22)" filter="url(#b1)"/>
<ellipse cx="778.1" cy="1356.7" rx="8" ry="8" fill="rgb(255,36,20)" filter="url(#b1)"/>
<rect x="624.25" y="1260.5" width="266.50" height="219.50" fill="#fff" filter="url(#noise)" style="mix-blend-mode:multiply"/>
</g>
<clipPath id="clip24"><rect x="897.0" y="1259.5" width="266.70" height="220.50"/></clipPath>
<g clip-path="url(#clip24)"><rect x="897.0" y="1259.5" width="266.70" height="220.50" fill="#000"/>
<polygon points="890.0,1321.5 993.0,1347.3 1050.0,1345.5 1110.0,1347.5 1172.0,1353.5 1172.0,1439.5 1078.0,1426.7 940.0,1415.2 890.0,1402.5" fill="rgb(9,0,0)" filter="url(#b3)"/>
<path d="M992.0,1338.5 L994.0,1326.5 L1002.0,1319.5 L1012.0,1316.5 L1022.0,1314.0 L1034.0,1316.5 L1042.0,1321.5 L1046.5,1330.5 L1046.0,1342.5 L1040.0,1350.5 L1030.0,1353.0 L1015.0,1352.5 L1000.0,1350.5 Z" fill="rgb(70,6,4)" filter="url(#b4)"/>
<ellipse cx="1001.9" cy="1330.7" rx="5.5" ry="4.95" fill="rgb(200,30,20)" filter="url(#b2)"/>
<ellipse cx="1011.3" cy="1326.0" rx="4.5" ry="4.05" fill="rgb(150,20,10)" filter="url(#b2)"/>
<ellipse cx="1020.6" cy="1333.0" rx="7" ry="6.3" fill="rgb(210,35,20)" filter="url(#b2)"/>
<ellipse cx="1022.3" cy="1321.3" rx="4.5" ry="4.05" fill="rgb(150,20,12)" filter="url(#b2)"/>
<ellipse cx="1031.1" cy="1323.7" rx="5.5" ry="4.95" fill="rgb(190,30,20)" filter="url(#b2)"/>
<ellipse cx="1039.3" cy="1327.2" rx="4.5" ry="4.05" fill="rgb(180,28,18)" filter="url(#b2)"/>
<ellipse cx="1001.3" cy="1342.9" rx="5" ry="4.5" fill="rgb(150,20,10)" filter="url(#b2)"/>
<ellipse cx="1013.0" cy="1344.7" rx="5.5" ry="4.95" fill="rgb(230,40,20)" filter="url(#b2)"/>
<ellipse cx="1037.5" cy="1340.0" rx="6.5" ry="5.8500000000000005" fill="rgb(140,15,10)" filter="url(#b2)"/>
<rect x="897.0" y="1259.5" width="266.70" height="220.50" fill="#fff" filter="url(#noise)" style="mix-blend-mode:multiply"/>
</g>
<clipPath id="clip31"><rect x="79.8" y="1485.2" width="267.70" height="221.30"/></clipPath>
<g clip-path="url(#clip31)"><rect x="79.8" y="1485.2" width="267.70" height="221.30" fill="#000"/>
<rect x="79.8" y="1651.7" width="267.7" height="60" fill="rgb(2,9,2)"/>
<clipPath id="fc3"><polygon points="70.0,1547.7 200.0,1549.2 344.0,1554.3 352.0,1554.7 352.0,1654.7 344.0,1654.0 223.0,1653.7 150.0,1649.2 70.0,1648.4"/></clipPath><g filter="url(#b2_5)"><g clip-path="url(#fc3)"><polygon points="70.0,1547.7 200.0,1549.2 344.0,1554.3 352.0,1554.7 352.0,1654.7 344.0,1654.0 223.0,1653.7 150.0,1649.2 70.0,1648.4" fill="rgb(34,96,18)"/><ellipse cx="285.0" cy="1601.7" rx="90" ry="50" fill="rgb(40,108,22)" filter="url(#b20)" opacity="0.9"/><ellipse cx="120.0" cy="1586.7" rx="50" ry="30" fill="rgb(32,90,17)" filter="url(#b12)" opacity="0.7"/></g></g>
<ellipse cx="97.8" cy="1598.4" rx="5.5" ry="7.5" fill="rgb(40,80,180)" filter="url(#b1_5)" transform="rotate(30 97.8 1598.4)" opacity="0.85"/>
<ellipse cx="135.3" cy="1576.1" rx="9.5" ry="3.8" fill="rgb(45,90,170)" filter="url(#b1_5)" opacity="0.85"/>
<ellipse cx="177.7" cy="1567.4" rx="6.5" ry="4.8" fill="rgb(40,80,180)" filter="url(#b1_5)" opacity="0.85"/>
<ellipse cx="231.2" cy="1580.5" rx="7.5" ry="4.5" fill="rgb(50,100,170)" filter="url(#b1_5)" transform="rotate(40 231.2 1580.5)" opacity="0.85"/>
<ellipse cx="312.9" cy="1591.5" rx="8.5" ry="3.3" fill="rgb(50,100,170)" filter="url(#b1_5)" opacity="0.85"/>
<ellipse cx="112.8" cy="1650.2" rx="7.5" ry="4.5" fill="rgb(30,30,180)" filter="url(#b1_5)" opacity="0.85"/>
<ellipse cx="234.7" cy="1654.1" rx="7.5" ry="3.8" fill="rgb(30,30,190)" filter="url(#b1_5)" opacity="0.85"/>
<ellipse cx="306.0" cy="1653.6" rx="7.5" ry="3.8" fill="rgb(30,30,180)" filter="url(#b1_5)" opacity="0.85"/>
<ellipse cx="346.0" cy="1652.5" rx="4" ry="4" fill="rgb(30,30,200)" filter="url(#b1_5)" opacity="0.85"/>
<ellipse cx="269.2" cy="1581.2" rx="9" ry="9" fill="rgb(40,90,110)" filter="url(#b4)"/>
<ellipse cx="183.0" cy="1641.0" rx="8" ry="8" fill="rgb(36,76,100)" filter="url(#b4)"/>
<ellipse cx="210.5" cy="1604.2" rx="10" ry="3" fill="rgb(255,120,170)" filter="url(#b0_7)" transform="rotate(-8 210.5 1604.2)"/>
<rect x="79.8" y="1485.2" width="267.70" height="221.30" fill="#fff" filter="url(#noise)" style="mix-blend-mode:multiply"/>
</g>
<clipPath id="clip32"><rect x="350.8" y="1484.0" width="267.40" height="221.50"/></clipPath>
<g clip-path="url(#clip32)"><rect x="350.8" y="1484.0" width="267.40" height="221.50" fill="#000"/>
<rect x="340.8" y="1573" width="287.40000000000003" height="150" fill="rgb(46,100,25)" filter="url(#b7)"/>
<ellipse cx="585.2" cy="1654.8" rx="16" ry="22" fill="rgb(50,105,80)" filter="url(#b8)"/>
<ellipse cx="459.8" cy="1598.4" rx="14" ry="16" fill="rgb(48,100,80)" filter="url(#b7)"/>
<ellipse cx="364.4" cy="1588.0" rx="14" ry="14" fill="rgb(48,100,95)" filter="url(#b7)"/>
<ellipse cx="541.5" cy="1588.0" rx="10.5" ry="9.5" fill="rgb(45,65,200)" filter="url(#b2)"/>
<ellipse cx="476.0" cy="1572.0" rx="11" ry="8" fill="rgb(230,60,220)" filter="url(#b1_5)" transform="rotate(15 476.0 1572.0)"/>
<ellipse cx="481.0" cy="1575.0" rx="7" ry="5" fill="rgb(255,70,140)" filter="url(#b1)" transform="rotate(15 481.0 1575.0)"/>
<rect x="350.8" y="1484.0" width="267.40" height="221.50" fill="#fff" filter="url(#noise)" style="mix-blend-mode:multiply"/>
</g>
<clipPath id="clip33"><rect x="624.25" y="1484.2" width="266.50" height="221.80"/></clipPath>
<g clip-path="url(#clip33)"><rect x="624.25" y="1484.2" width="266.50" height="221.80" fill="#000"/>
<defs><linearGradient id="g33" gradientUnits="userSpaceOnUse" x1="624" y1="1541" x2="891" y2="1641"><stop offset="0" stop-color="rgb(44,92,22)"/><stop offset="0.5" stop-color="rgb(34,72,16)"/><stop offset="1" stop-color="rgb(28,60,14)"/></linearGradient></defs>
<polygon points="600.0,1486.0 760.0,1486.0 600.0,1526.0" fill="rgb(8,22,5)" filter="url(#b15)"/>
<polygon points="600.0,1509.0 900.0,1566.0 900.0,1689.0 600.0,1647.0" fill="url(#g33)" filter="url(#b10)"/>
<ellipse cx="648.7" cy="1555.7" rx="16" ry="5.5" fill="rgb(50,88,140)" filter="url(#b1_5)" transform="rotate(3 648.7 1555.7)"/>
<ellipse cx="739.6" cy="1575.3" rx="16" ry="5.5" fill="rgb(50,88,140)" filter="url(#b1_5)" transform="rotate(3 739.6 1575.3)"/>
<ellipse cx="813.2" cy="1591.4" rx="13" ry="6" fill="rgb(50,88,140)" filter="url(#b1_5)" transform="rotate(3 813.2 1591.4)"/>
<ellipse cx="639.5" cy="1615.5" rx="13" ry="6" fill="rgb(50,88,140)" filter="url(#b1_5)"/>
<ellipse cx="682.0" cy="1624.7" rx="15" ry="6" fill="rgb(50,88,140)" filter="url(#b1_5)" transform="rotate(3 682.0 1624.7)"/>
<ellipse cx="778.7" cy="1637.4" rx="12" ry="7" fill="rgb(50,88,140)" filter="url(#b1_5)" transform="rotate(-8 778.7 1637.4)"/>
<ellipse cx="866.0" cy="1646.6" rx="13" ry="7" fill="rgb(50,88,140)" filter="url(#b1_5)"/>
<ellipse cx="792.0" cy="1577.0" rx="8" ry="6" fill="rgb(50,88,140)" filter="url(#b1_5)"/>
<ellipse cx="771.0" cy="1575.0" rx="16" ry="20" fill="rgb(90,160,40)" filter="url(#b4)" opacity="0.7"/>
<ellipse cx="765.4" cy="1569.7" rx="8" ry="8.5" fill="rgb(235,80,150)" filter="url(#b1)"/>
<ellipse cx="778.7" cy="1581.2" rx="8.5" ry="8.5" fill="rgb(245,70,140)" filter="url(#b1)"/>
<line x1="765" y1="1579" x2="778" y2="1571" stroke="rgb(120,240,60)" stroke-width="2.5"/>
<rect x="624.25" y="1484.2" width="266.50" height="221.80" fill="#fff" filter="url(#noise)" style="mix-blend-mode:multiply"/>
</g>
<clipPath id="clip34"><rect x="897.8" y="1484.0" width="266.40" height="222.30"/></clipPath>
<g clip-path="url(#clip34)"><rect x="897.8" y="1484.0" width="266.40" height="222.30" fill="#000"/>
<clipPath id="fc4"><polygon points="890.0,1545.8 992.3,1571.6 1047.0,1570.0 1108.0,1571.2 1130.0,1573.4 1172.0,1578.5 1172.0,1664.5 1108.0,1656.6 1080.0,1651.5 1030.0,1645.4 940.0,1639.7 890.0,1627.0"/></clipPath><g filter="url(#b1_5)"><g clip-path="url(#fc4)"><polygon points="890.0,1545.8 992.3,1571.6 1047.0,1570.0 1108.0,1571.2 1130.0,1573.4 1172.0,1578.5 1172.0,1664.5 1108.0,1656.6 1080.0,1651.5 1030.0,1645.4 940.0,1639.7 890.0,1627.0" fill="rgb(36,96,18)"/><ellipse cx="930.0" cy="1571.0" rx="45" ry="30" fill="rgb(42,112,24)" filter="url(#b12)" opacity="0.9"/><ellipse cx="960.0" cy="1626.0" rx="40" ry="15" fill="rgb(40,106,22)" filter="url(#b10)" opacity="0.6"/></g></g>
<ellipse cx="1080.0" cy="1584.0" rx="14" ry="7" fill="rgb(40,80,140)" filter="url(#b3)" opacity="0.8"/>
<ellipse cx="1120.0" cy="1615.0" rx="12" ry="9" fill="rgb(40,80,140)" filter="url(#b3)" opacity="0.8"/>
<ellipse cx="935.0" cy="1607.0" rx="10" ry="8" fill="rgb(40,80,140)" filter="url(#b3)" opacity="0.8"/>
<ellipse cx="1015.0" cy="1617.0" rx="12" ry="8" fill="rgb(40,80,140)" filter="url(#b3)" opacity="0.8"/>
<ellipse cx="1142.0" cy="1573.0" rx="14" ry="5" fill="rgb(40,80,140)" filter="url(#b3)" opacity="0.8"/>
<ellipse cx="948.0" cy="1638.0" rx="12" ry="5" fill="rgb(40,80,140)" filter="url(#b3)" opacity="0.8"/>
<ellipse cx="1097.0" cy="1655.0" rx="14" ry="5" fill="rgb(40,80,140)" filter="url(#b3)" opacity="0.8"/>
<path d="M992.0,1563.0 L994.0,1551.0 L1002.0,1544.0 L1012.0,1541.0 L1022.0,1538.5 L1034.0,1541.0 L1042.0,1546.0 L1046.5,1555.0 L1046.0,1567.0 L1040.0,1575.0 L1030.0,1577.5 L1015.0,1577.0 L1000.0,1575.0 Z" fill="rgb(80,205,70)" filter="url(#b2)"/>
<ellipse cx="1003.7" cy="1556.3" rx="6" ry="5.4" fill="rgb(190,120,230)" filter="url(#b2)" opacity="0.9"/>
<ellipse cx="1011.3" cy="1551.0" rx="5" ry="4.5" fill="rgb(140,130,210)" filter="url(#b2)" opacity="0.9"/>
<ellipse cx="1022.3" cy="1545.8" rx="6" ry="5.4" fill="rgb(110,120,220)" filter="url(#b2)" opacity="0.9"/>
<ellipse cx="1021.8" cy="1558.0" rx="7" ry="6.3" fill="rgb(180,160,240)" filter="url(#b2)" opacity="0.9"/>
<ellipse cx="1031.1" cy="1548.7" rx="6" ry="5.4" fill="rgb(200,120,220)" filter="url(#b2)" opacity="0.9"/>
<ellipse cx="1039.8" cy="1552.2" rx="5" ry="4.5" fill="rgb(210,110,200)" filter="url(#b2)" opacity="0.9"/>
<ellipse cx="1001.9" cy="1568.5" rx="6" ry="5.4" fill="rgb(120,130,210)" filter="url(#b2)" opacity="0.9"/>
<ellipse cx="1013.0" cy="1569.7" rx="5" ry="4.5" fill="rgb(220,150,190)" filter="url(#b2)" opacity="0.9"/>
<ellipse cx="1029.3" cy="1573.2" rx="6" ry="5.4" fill="rgb(80,140,180)" filter="url(#b2)" opacity="0.9"/>
<ellipse cx="1039.8" cy="1565.0" rx="5" ry="4.5" fill="rgb(120,170,180)" filter="url(#b2)" opacity="0.9"/>
<rect x="1122.9" y="1695.2" width="34.1" height="2.8" fill="#fff"/>
<rect x="897.8" y="1484.0" width="266.40" height="222.30" fill="#fff" filter="url(#noise)" style="mix-blend-mode:multiply"/>
</g>
</svg></body></html>
